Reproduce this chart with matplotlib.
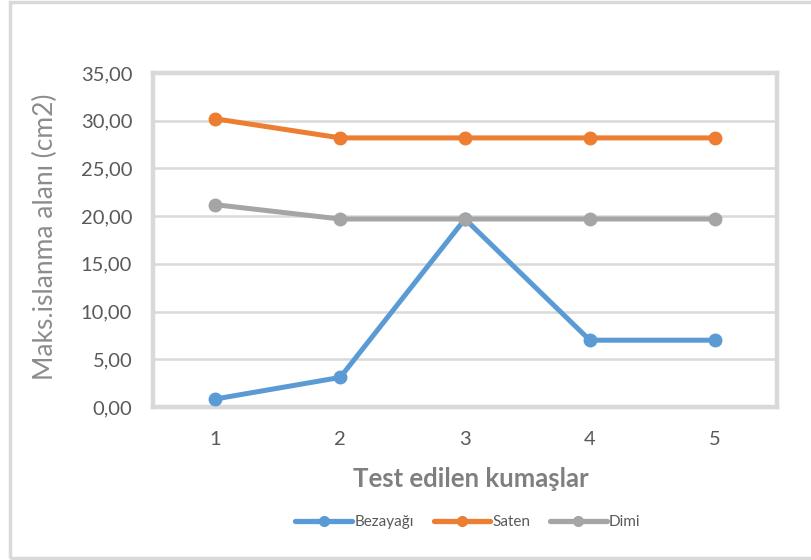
import matplotlib
matplotlib.use("Agg")
import matplotlib.pyplot as plt
from matplotlib.patches import Rectangle

plt.rcParams['font.family'] = ['Lato', 'DejaVu Sans']

# Data
categories = [1, 2, 3, 4, 5]
bezayagi = [0.84, 3.10, 19.70, 7.00, 7.00]
saten = [30.20, 28.20, 28.20, 28.20, 28.20]
dimi = [21.20, 19.70, 19.70, 19.70, 19.70]
series_names = ["Bezayağı", "Saten", "Dimi"]
series_colors = ["#5b9bd5", "#ed7d31", "#a5a5a5"]
y_ticks = [0, 5, 10, 15, 20, 25, 30, 35]

fig = plt.figure(figsize=(8.12, 5.6), dpi=100)
fig.patch.set_facecolor("white")

# outer chart frame
fig.add_artist(Rectangle((10 / 812, 2 / 560), 1.2, 556 / 560, transform=fig.transFigure,
                         fill=False, edgecolor="#d9d9d9", linewidth=2.5, clip_on=False))

ax = fig.add_axes([153 / 812, 1 - 407 / 560, (777 - 153) / 812, (407 - 73) / 560])

for vals, name, col in zip([bezayagi, saten, dimi], series_names, series_colors):
    ax.plot(categories, vals, color=col, linewidth=3.6, marker="o", markersize=9,
            label=name, solid_capstyle="round", zorder=3)

ax.set_xlim(0.5, 5.5)
ax.set_ylim(0, 35)
ax.set_yticks(y_ticks)
ax.set_yticklabels([f"{v:.2f}".replace(".", ",") for v in y_ticks])
ax.set_xticks(categories)
ax.set_xticklabels([str(c) for c in categories])
ax.yaxis.grid(True, color="#d9d9d9", linewidth=1.8, zorder=0)
ax.set_axisbelow(True)
ax.tick_params(axis="both", length=0, labelsize=14.5, labelcolor="#595959")
ax.tick_params(axis="y", pad=15)
ax.tick_params(axis="x", pad=17)
for s in ax.spines.values():
    s.set_color("#d9d9d9")
    s.set_linewidth(3.2)

ax.set_ylabel("Maks.islanma alanı (cm2)", fontsize=19, color="#8c8c8c")
ax.yaxis.set_label_coords(-0.152, 0.51)
ax.set_xlabel("Test edilen kumaşlar", fontsize=18.5, color="#7f7f7f", fontweight="bold")
ax.xaxis.set_label_coords(0.51, -0.18)

leg = fig.legend(loc="center", bbox_to_anchor=(468 / 812, 1 - 522 / 560), ncol=3,
                 frameon=False, fontsize=11, handlelength=3.7, columnspacing=1.3,
                 handletextpad=0.15, labelcolor="#595959")
for h in leg.legend_handles:
    h.set_markersize(7)
    h.set_linewidth(3.8)

fig.savefig("out.png", dpi=100)
